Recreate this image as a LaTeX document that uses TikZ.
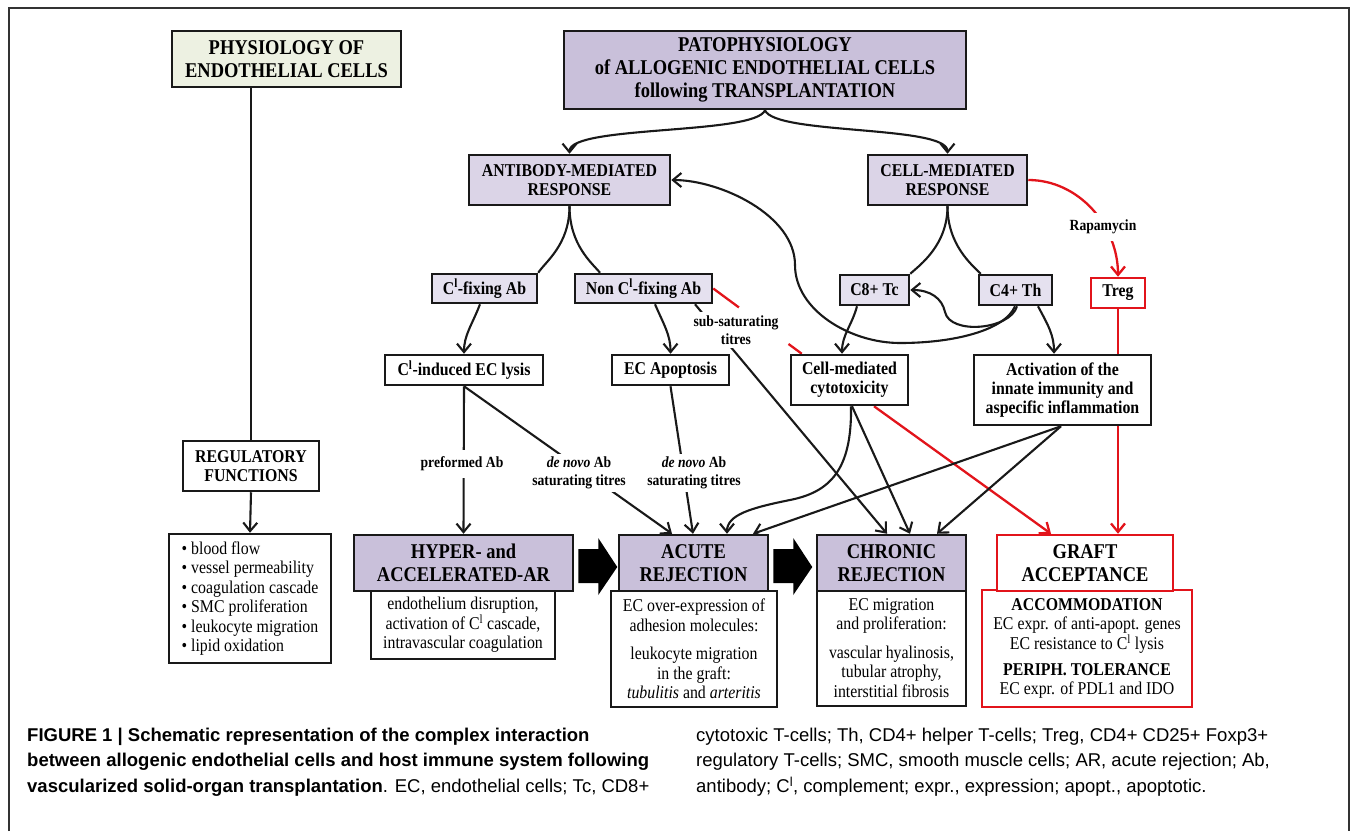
\documentclass[tikz,border=0pt]{standalone}
\usepackage{fontspec}
\newfontfamily\tnr[FakeStretch=0.88]{Liberation Serif}
\newfontfamily\capsf{Liberation Sans}
\usetikzlibrary{arrows.meta,calc}
\pgfdeclarelayer{bg}
\pgfsetlayers{bg,main}
\definecolor{pdark}{HTML}{C9C0DA}
\definecolor{pmid}{HTML}{DBD4E7}
\definecolor{plight}{HTML}{E5E1EF}
\definecolor{gphys}{HTML}{EDF1E2}
\definecolor{rd}{HTML}{E2141B}
\begin{document}
\begin{tikzpicture}[x=1pt,y=-1pt,
  bigf/.style={font=\tnr\bfseries\fontsize{21}{23}\selectfont},
  midf/.style={font=\tnr\bfseries\fontsize{18}{19}\selectfont},
  regf/.style={font=\tnr\fontsize{18}{19.5}\selectfont},
  box/.style={draw=black!90, line width=2.5pt, rectangle, inner sep=0pt, align=center, midf},
  rbox/.style={box, draw=rd, fill=white},
  lab/.style={fill=white, inner xsep=2pt, inner ysep=3pt, align=center, font=\tnr\bfseries\fontsize{15.5}{18}\selectfont},
  conn/.style={line width=2.1pt, draw=black!90},
  arr/.style={conn, -{Straight Barb[length=8.5pt,width=14pt]}},
  rconn/.style={line width=2.3pt, draw=rd},
  rarr/.style={rconn, -{Straight Barb[length=8.5pt,width=14pt]}},
  blockarr/.style={fill=black},
  captext/.style={inner sep=0pt, anchor=west, align=left, font=\capsf\fontsize{18.5}{25.5}\selectfont}
]
\useasboundingbox (0,0) rectangle (1354,831);
\draw[line width=1.3pt, black!80] (9,831) -- (9,8) -- (1349,8) -- (1349,831);

% top level
\node[box, bigf, fill=gphys, minimum width=229pt, minimum height=56pt] (phys) at (286.5,59) {PHYSIOLOGY OF\\ENDOTHELIAL CELLS};
\node[box, bigf, fill=pdark, minimum width=402pt, minimum height=78pt] (pato) at (765,70) {PATOPHYSIOLOGY\\of ALLOGENIC ENDOTHELIAL CELLS\\following TRANSPLANTATION};
\node[box, fill=pmid, minimum width=201pt, minimum height=50pt] (ab) at (569.5,180) {ANTIBODY-MEDIATED\\RESPONSE};
\node[box, fill=pmid, minimum width=159pt, minimum height=50pt] (cm) at (947.5,180) {CELL-MEDIATED\\RESPONSE};

% second level
\node[box, fill=plight, minimum width=105pt, minimum height=29pt] (clfix) at (484.5,288.5) {C\textsuperscript{l}-fixing Ab};
\node[box, fill=plight, minimum width=137pt, minimum height=29pt] (nonfix) at (643.5,288.5) {Non C\textsuperscript{l}-fixing Ab};
\node[box, fill=plight, minimum width=69pt, minimum height=30pt] (c8) at (874.5,290) {C8+ Tc};
\node[box, fill=plight, minimum width=73pt, minimum height=30pt] (c4) at (1015.5,290) {C4+ Th};
\node[rbox, minimum width=54pt, minimum height=30pt] (treg) at (1118,293) {Treg};

% third level
\node[box, fill=white, minimum width=158pt, minimum height=30pt] (lysis) at (464,370) {C\textsuperscript{l}-induced EC lysis};
\node[box, fill=white, minimum width=117pt, minimum height=30pt] (apop) at (670.5,370) {EC Apoptosis};
\node[box, fill=white, minimum width=117pt, minimum height=50pt] (cyto) at (849.5,380) {Cell-mediated\\cytotoxicity};
\node[box, fill=white, minimum width=177pt, minimum height=70pt] (act) at (1062.5,390) {Activation of the\\innate immunity and\\aspecific inflammation};
\node[box, fill=white, minimum width=136pt, minimum height=50pt] (reg) at (251,466) {REGULATORY\\FUNCTIONS};

% bottom row
\node[box, regf, fill=white, align=left, minimum width=162pt, minimum height=129pt] (bul) at (250,598.5) {\textbullet{} blood flow\\\textbullet{} vessel permeability\\\textbullet{} coagulation cascade\\\textbullet{} SMC proliferation\\\textbullet{} leukocyte migration\\\textbullet{} lipid oxidation};
\node[box, regf, fill=white, minimum width=184pt, minimum height=68pt] (hyperd) at (463,625) {endothelium disruption,\\activation of C\textsuperscript{l} cascade,\\intravascular coagulation};
\node[box, bigf, fill=pdark, minimum width=219pt, minimum height=56pt] (hyper) at (463.5,563) {HYPER- and\\ACCELERATED-AR};
\node[box, regf, fill=white, minimum width=166pt, minimum height=116pt] (acuted) at (694,649) {EC over-expression of\\adhesion molecules:\\[9pt]leukocyte migration\\in the graft:\\\textit{tubulitis} and \textit{arteritis}};
\node[box, bigf, fill=pdark, minimum width=149pt, minimum height=56pt] (acute) at (693.5,563) {ACUTE\\REJECTION};
\node[box, regf, fill=white, minimum width=149pt, minimum height=116pt] (chrond) at (891.5,648) {EC migration\\and proliferation:\\[9pt]vascular hyalinosis,\\tubular atrophy,\\interstitial fibrosis};
\node[box, bigf, fill=pdark, minimum width=149pt, minimum height=56pt] (chron) at (891.5,563) {CHRONIC\\REJECTION};
\node[rbox, regf, minimum width=210pt, minimum height=117pt] (graftd) at (1087,648.5) {\textbf{ACCOMMODATION}\\EC expr. of anti-apopt. genes\\EC resistance to C\textsuperscript{l} lysis\\[6.5pt]\textbf{PERIPH. TOLERANCE}\\EC expr. of PDL1 and IDO};
\node[rbox, bigf, minimum width=176pt, minimum height=56pt] (graft) at (1085,563) {GRAFT\\ACCEPTANCE};

% block arrows
\foreach \b in {hyper,acute}{
  \fill[blockarr] ($(\b.east)+(4,-14)$) -- ++(20,0) -- ++(0,-11) -- ($(\b.east)+(43,4)$) -- ($(\b.east)+(24,32)$) -- ++(0,-12) -- ++(-20,0) -- cycle;
}

% labels
\node[lab, inner ysep=7pt] (rap) at (1103,227) {Rapamycin};
\node[lab, inner ysep=7pt] (pre) at (462,464) {preformed Ab};
\node[lab] (dn1) at (579,473) {\textit{de novo} Ab\\saturating titres};
\node[lab] (dn2) at (694,473) {\textit{de novo} Ab\\saturating titres};
\node[lab, inner ysep=4pt] (sub) at (736,330) {sub-saturating\\titres};

\begin{pgfonlayer}{bg}
\draw[conn] (reg.north |- phys.south) -- (reg.north);
\draw[arr] (reg.south) -- (bul.north);
\draw[arr] (pato.south) .. controls (755,135) and (569.5,125) .. (ab.north);
\draw[arr] (pato.south) .. controls (775,135) and (947.5,125) .. (cm.north);
\draw[conn] (ab.south) .. controls (569.5,245) and (545,262) .. (clfix.north east);
\draw[conn] (ab.south) .. controls (569.5,245) and (592,263) .. ([xshift=-43.5pt]nonfix.north);
\draw[conn] (cm.south) .. controls (947.5,245) and (920,265) .. (c8.north east);
\draw[conn] (cm.south) .. controls (947.5,245) and (972,265) .. ([xshift=3pt]c4.north west);
\draw[rarr] (cm.east) .. controls (1079,180) and (1118,226) .. (treg.north);
\draw[arr] ([xshift=-4.5pt]clfix.south) .. controls (472,325) and (464,335) .. (lysis.north);
\draw[arr] ([xshift=11.5pt]nonfix.south) .. controls (664,325) and (670.5,335) .. (apop.north);
\draw[arr] (lysis.south) -- (hyper.north);
\draw[arr] (lysis.south) -- ([xshift=-21.5pt]acute.north);
\draw[arr] (apop.south) -- ([xshift=-0.5pt]acute.north);
\draw[arr] ([xshift=51.5pt]nonfix.south) -- ([xshift=-4.5pt]chron.north);
\coordinate (cytonw) at ([xshift=12pt]cyto.north west);
\draw[rconn] (nonfix.east) -- ($(nonfix.east)!0.29!(cytonw)$) ($(nonfix.east)!0.85!(cytonw)$) -- (cytonw);
\draw[arr] ([xshift=-17.5pt]c8.south) .. controls (852,325) and (842,335) .. ([xshift=-7.5pt]cyto.north);
\draw[arr] ([xshift=1.5pt]c4.south) .. controls (1010,330) and (950,335) .. (945,312) .. controls (942,298) and (930,290) .. (c8.east);
\draw[arr] ([xshift=-0.5pt]c4.south) .. controls (1005,330) and (955,343) .. (900,343) .. controls (850,343) and (795,310) .. (795,265) .. controls (795,215) and (720,180) .. (ab.east);
\draw[arr] ([xshift=22.5pt]c4.south) .. controls (1048,325) and (1054,335) .. ([xshift=-8.5pt]act.north);
\draw[rarr] (treg.south) -- (treg.south |- graft.north);
\draw[arr] ([xshift=1.5pt]cyto.south) .. controls (852,470) and (830,492) .. (790,500) .. controls (750,508) and (727,515) .. ([xshift=33.5pt]acute.north);
\draw[arr] ([xshift=2.5pt]cyto.south) -- ([xshift=18.5pt]chron.north);
\draw[rarr] ([xshift=24.5pt]cyto.south) -- ([xshift=-34pt]graft.north);
\draw[arr] ([xshift=-1.5pt]act.south) -- ([xshift=59.5pt]acute.north);
\draw[arr] ([xshift=-1.5pt]act.south) -- ([xshift=45.5pt]chron.north);
\end{pgfonlayer}

% caption
\node[captext] (capl) at (27,762) {\textbf{FIGURE 1 | Schematic representation of the complex interaction}\\\textbf{between allogenic endothelial cells and host immune system following}\\\textbf{vascularized solid-organ transplantation}. EC, endothelial cells; Tc, CD8+};
\node[captext] (capr) at (696,762) {cytotoxic T-cells; Th, CD4+ helper T-cells; Treg, CD4+ CD25+ Foxp3+\\regulatory T-cells; SMC, smooth muscle cells; AR, acute rejection; Ab,\\antibody; C\textsuperscript{l}, complement; expr., expression; apopt., apoptotic.};
\end{tikzpicture}
\end{document}
